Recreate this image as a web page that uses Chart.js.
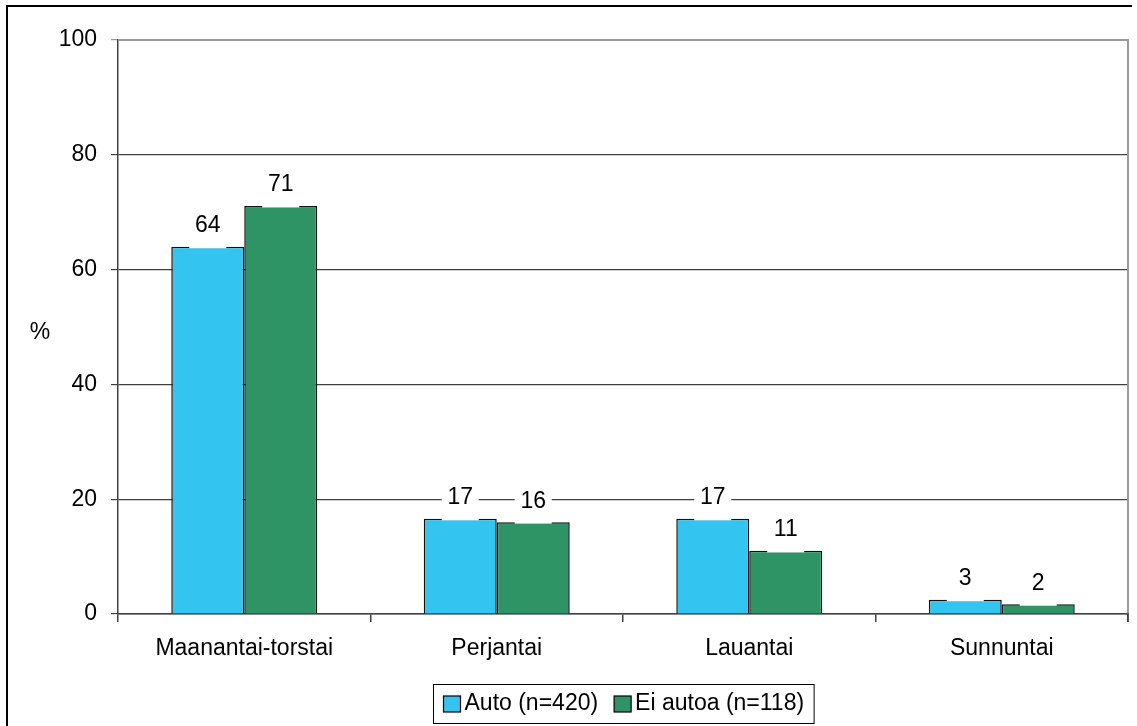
<!DOCTYPE html>
<html>
<head>
<meta charset="utf-8">
<script src="https://cdn.jsdelivr.net/npm/chart.js@4/dist/chart.umd.min.js"></script>
<style>
  html, body { margin: 0; padding: 0; background: #fff; }
  #wrap { position: relative; width: 1137px; height: 726px; }
</style>
</head>
<body>
<div id="wrap"><canvas id="c" width="1137" height="726"></canvas></div>
<script>
// Travel days by car ownership (%)
const categories = ['Maanantai-torstai', 'Perjantai', 'Lauantai', 'Sunnuntai'];
const autoValues = [64.0, 16.6, 16.6, 2.5];
const eiAutoaValues = [71.1, 16.0, 11.0, 1.7];
const seriesLabels = ['Auto (n=420)', 'Ei autoa (n=118)'];
const seriesColors = ['#33C4F0', '#2E9465'];
const yTicks = [0, 20, 40, 60, 80, 100];
const yAxisTitle = '%';

const FONT = "'Liberation Sans', Arial, sans-serif";
const FONT_SIZE = 23;
const AXIS_COLOR = '#404040';

// White-backed value labels above each bar
const valueLabels = {
  id: 'valueLabels',
  afterDatasetsDraw(chart) {
    const ctx = chart.ctx;
    ctx.save();
    ctx.font = FONT_SIZE + 'px ' + FONT;
    ctx.textAlign = 'center';
    ctx.textBaseline = 'middle';
    chart.data.datasets.forEach((ds, di) => {
      const meta = chart.getDatasetMeta(di);
      meta.data.forEach((bar, i) => {
        const txt = String(Math.round(ds.data[i]));
        const w = 37;
        ctx.fillStyle = '#fff';
        ctx.fillRect(bar.x - w / 2, bar.y - 42, w, 43.5);
        ctx.fillStyle = '#000';
        ctx.fillText(txt, bar.x, bar.y - 21);
      });
    });
    ctx.restore();
  }
};

// Frame, plot-area border, axis title and legend box
const decorations = {
  id: 'decorations',
  afterDraw(chart) {
    const ctx = chart.ctx;
    const a = chart.chartArea;
    ctx.save();
    // outer frame
    ctx.strokeStyle = '#000';
    ctx.lineWidth = 2;
    ctx.beginPath();
    ctx.moveTo(7, 730);
    ctx.lineTo(7, 6);
    ctx.lineTo(1132, 6);
    ctx.stroke();
    // plot area border (top/right)
    ctx.strokeStyle = '#9a9a9a';
    ctx.lineWidth = 2;
    ctx.beginPath();
    ctx.moveTo(a.left, a.top);
    ctx.lineTo(a.right, a.top);
    ctx.lineTo(a.right, a.bottom);
    ctx.stroke();
    // last x tick over the border
    ctx.strokeStyle = AXIS_COLOR;
    ctx.lineWidth = 1.5;
    ctx.beginPath();
    ctx.moveTo(a.right, a.bottom - 1);
    ctx.lineTo(a.right, a.bottom + 8);
    ctx.stroke();

    // y axis title
    ctx.fillStyle = '#000';
    ctx.font = FONT_SIZE + 'px ' + FONT;
    ctx.textAlign = 'center';
    ctx.textBaseline = 'middle';
    ctx.fillText(yAxisTitle, 40, (a.top + a.bottom) / 2 + 6);

    // legend
    const sq = 17, gapSq = 4, gapItem = 16, pad = 10;
    ctx.font = FONT_SIZE + 'px ' + FONT;
    const widths = seriesLabels.map(t => ctx.measureText(t).width);
    let total = pad * 2;
    widths.forEach((w, i) => { total += sq + gapSq + w + (i ? gapItem : 0); });
    const cx = (a.left + a.right) / 2;
    const bx = Math.round(cx - total / 2) + 0.5;
    const by = 684.5, bh = 39;
    ctx.fillStyle = '#fff';
    ctx.fillRect(bx, by, total, bh);
    ctx.strokeStyle = '#000';
    ctx.lineWidth = 1;
    ctx.strokeRect(bx, by, total, bh);
    let x = bx + pad;
    const cy = 704;
    seriesLabels.forEach((t, i) => {
      if (i) x += gapItem;
      ctx.fillStyle = seriesColors[i];
      ctx.fillRect(x, cy - 8, sq, 16);
      ctx.strokeStyle = '#000';
      ctx.lineWidth = 1.2;
      ctx.strokeRect(x, cy - 8, sq, 16);
      x += sq + gapSq;
      ctx.fillStyle = '#000';
      ctx.textAlign = 'left';
      ctx.textBaseline = 'middle';
      ctx.fillText(t, x, cy);
      x += widths[i];
    });
    ctx.restore();
  }
};

new Chart(document.getElementById('c'), {
  type: 'bar',
  data: {
    labels: categories,
    datasets: [
      { label: seriesLabels[0], data: autoValues, backgroundColor: seriesColors[0],
        borderColor: '#111', borderWidth: 1.5, barPercentage: 1.0, categoryPercentage: 0.578 },
      { label: seriesLabels[1], data: eiAutoaValues, backgroundColor: seriesColors[1],
        borderColor: '#111', borderWidth: 1.5, barPercentage: 1.0, categoryPercentage: 0.578 }
    ]
  },
  options: {
    responsive: false,
    animation: false,
    devicePixelRatio: 1,
    layout: { padding: { left: 0, top: 40, right: 9, bottom: 0 } },
    plugins: {
      legend: { display: false },
      tooltip: { enabled: false },
      title: { display: false }
    },
    scales: {
      x: {
        offset: true,
        grid: { drawOnChartArea: false, drawTicks: true, tickLength: 8, color: AXIS_COLOR, lineWidth: 1.5 },
        border: { display: true, color: AXIS_COLOR, width: 1.5 },
        ticks: { color: '#000', padding: 13, font: { family: FONT, size: FONT_SIZE }, maxRotation: 0 },
        afterFit(scale) { scale.height = 112; }
      },
      y: {
        min: 0,
        max: 100,
        afterBuildTicks(scale) { scale.ticks = yTicks.map(v => ({ value: v })); },
        grid: {
          drawTicks: true,
          tickLength: 7,
          lineWidth: 1.2,
          color: ctx => (ctx.tick && ctx.tick.value === 100 ? '#9a9a9a' : AXIS_COLOR)
        },
        border: { display: true, color: AXIS_COLOR, width: 1.5 },
        ticks: { color: '#000', padding: 14, font: { family: FONT, size: FONT_SIZE } },
        afterFit(scale) { scale.width = 118; }
      }
    }
  },
  plugins: [valueLabels, decorations]
});
</script>
</body>
</html>
